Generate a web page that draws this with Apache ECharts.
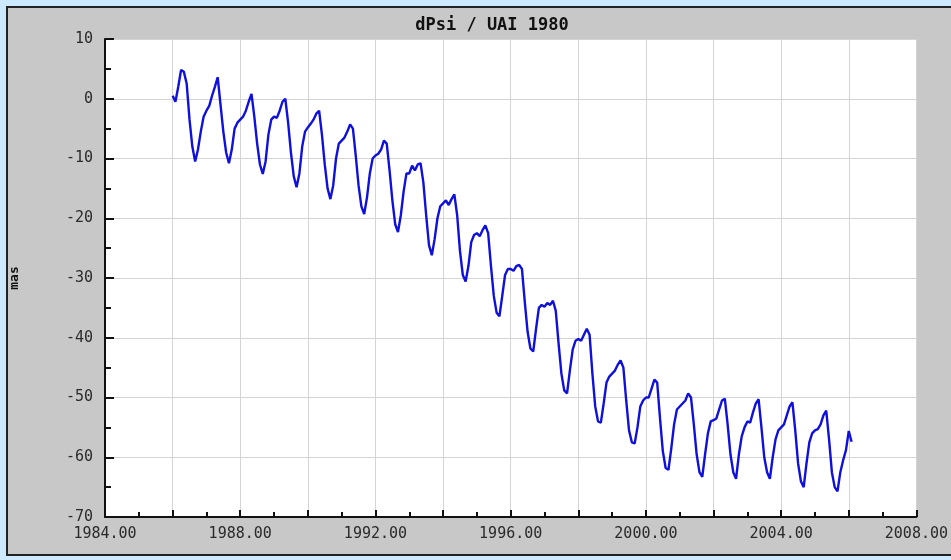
<!DOCTYPE html>
<html>
<head>
<meta charset="utf-8">
<script src="https://cdn.jsdelivr.net/npm/echarts@6/dist/echarts.min.js"></script>
<style>
html,body{margin:0;padding:0;background:#cde9ff;}
#chart{width:951px;height:560px;}
</style>
</head>
<body>
<div id="chart"></div>
<script>
// dPsi (mas) monthly samples, starting 1986.00, one value per month
const startYear = 1986;
const stepYears = 1 / 12;
const dpsi = [
  // 1986
  0.5, -0.5, 2.0, 4.8, 4.5, 2.5, -3.5, -8.0, -10.5, -8.5, -5.5, -3.0,
  // 1987
  -2.0, -1.2, 0.5, 2.0, 3.6, -1.0, -5.5, -9.0, -10.8, -8.5, -5.0, -4.0,
  // 1988
  -3.5, -3.0, -2.0, -0.5, 0.8, -3.0, -7.5, -11.0, -12.6, -10.5, -6.0, -3.5,
  // 1989
  -3.0, -3.2, -2.0, -0.5, 0.0, -4.0, -9.0, -13.0, -14.8, -12.5, -8.0, -5.5,
  // 1990
  -4.8, -4.2, -3.5, -2.5, -2.0, -6.0, -11.0, -15.0, -16.8, -14.5, -10.0, -7.5,
  // 1991
  -7.0, -6.5, -5.5, -4.3, -5.0, -9.5, -14.5, -18.0, -19.3, -16.5, -12.5, -10.0,
  // 1992
  -9.5, -9.2, -8.5, -7.0, -7.5, -12.0, -17.0, -21.0, -22.3, -19.5, -15.5, -12.5,
  // 1993
  -12.5, -11.2, -12.0, -11.0, -10.8, -14.0, -19.5, -24.5, -26.2, -23.5, -20.0, -18.0,
  // 1994
  -17.5, -17.0, -17.8, -16.8, -16.0, -19.5, -25.5, -29.5, -30.6, -28.0, -24.0, -22.8,
  // 1995
  -22.5, -23.0, -22.0, -21.2, -22.5, -28.0, -33.0, -35.8, -36.4, -33.0, -29.5, -28.5,
  // 1996
  -28.5, -28.8, -28.0, -27.8, -28.5, -34.0, -39.0, -41.8, -42.3, -38.5, -35.0, -34.5,
  // 1997
  -34.8, -34.2, -34.5, -33.8, -35.5, -41.0, -46.0, -48.8, -49.3, -45.5, -42.0, -40.5,
  // 1998
  -40.2, -40.5, -39.5, -38.5, -39.5, -46.0, -51.5, -54.0, -54.2, -51.0, -47.5, -46.5,
  // 1999
  -46.0, -45.5, -44.5, -43.8, -45.0, -50.5, -55.5, -57.5, -57.7, -55.0, -51.5, -50.5,
  // 2000
  -50.0, -50.0, -48.5, -47.0, -47.5, -53.5, -59.0, -61.8, -62.1, -58.5, -54.5, -52.0,
  // 2001
  -51.5, -51.0, -50.5, -49.3, -50.0, -54.5, -59.5, -62.5, -63.3, -59.5, -56.0, -54.0,
  // 2002
  -53.8, -53.5, -52.0, -50.5, -50.2, -54.5, -59.5, -62.5, -63.6, -59.5, -56.5, -55.0,
  // 2003
  -54.0, -54.2, -52.5, -51.0, -50.3, -55.0, -60.0, -62.5, -63.6, -60.0, -57.0, -55.5,
  // 2004
  -55.0, -54.5, -53.0, -51.5, -50.8, -55.5, -61.0, -64.0, -65.0, -61.0, -57.5, -56.0,
  // 2005
  -55.5, -55.3, -54.5, -53.0, -52.2, -57.0, -62.5, -65.0, -65.7, -62.5, -60.5, -58.8,
  // 2006
  -55.6, -57.4
];

const titleText = 'dPsi / UAI 1980';
const yName = 'mas';

const seriesData = dpsi.map((v, i) => [startYear + i * stepYears, v]);

const chart = echarts.init(document.getElementById('chart'), null, {renderer: 'canvas'});
const mono = 'DejaVu Sans Mono';
chart.setOption({
  backgroundColor: '#cde9ff',
  animation: false,
  graphic: [{
    type: 'rect',
    z: -10,
    silent: true,
    shape: {x: 7, y: 7, width: 970, height: 548},
    style: {fill: '#c8c8c8', stroke: '#222', lineWidth: 2}
  }],
  title: {
    text: titleText,
    left: 487,
    top: 12,
    textAlign: 'center',
    textStyle: {fontFamily: mono, fontSize: 17, fontWeight: 'bold', color: '#111'}
  },
  grid: {
    left: 103, top: 39, right: 32, bottom: 43,
    show: true, backgroundColor: '#ffffff', borderWidth: 0
  },
  xAxis: {
    type: 'value',
    min: 1984, max: 2008, interval: 2,
    axisLine: {onZero: false, lineStyle: {color: '#111', width: 2}},
    axisTick: {inside: true, length: 7, lineStyle: {color: '#111', width: 2}},
    minorTick: {show: true, splitNumber: 2, length: 5, lineStyle: {color: '#111', width: 2}},
    splitLine: {show: true, lineStyle: {color: '#d4d4d4', width: 1}},
    axisLabel: {
      fontFamily: mono, fontSize: 15, color: '#2a2a2a', margin: 10,
      formatter: v => (Math.round(v) % 4 === 0 ? v.toFixed(2) : '')
    }
  },
  yAxis: {
    type: 'value',
    min: -70, max: 10, interval: 10,
    name: yName,
    nameLocation: 'middle',
    nameRotate: 90,
    nameGap: 84,
    nameTextStyle: {fontFamily: mono, fontSize: 13, fontWeight: 'bold', color: '#111'},
    axisLine: {show: true, onZero: false, lineStyle: {color: '#111', width: 2}},
    axisTick: {show: true, inside: true, length: 9, lineStyle: {color: '#111', width: 2}},
    minorTick: {show: true, splitNumber: 2, length: 6, lineStyle: {color: '#111', width: 2}},
    splitLine: {show: true, lineStyle: {color: '#d4d4d4', width: 1}},
    axisLabel: {fontFamily: mono, fontSize: 15, color: '#2a2a2a', margin: 12}
  },
  series: [{
    type: 'line',
    data: seriesData,
    showSymbol: false,
    symbol: 'none',
    lineStyle: {color: '#1010dd', width: 2.4},
    z: 5
  }]
});
</script>
</body>
</html>
